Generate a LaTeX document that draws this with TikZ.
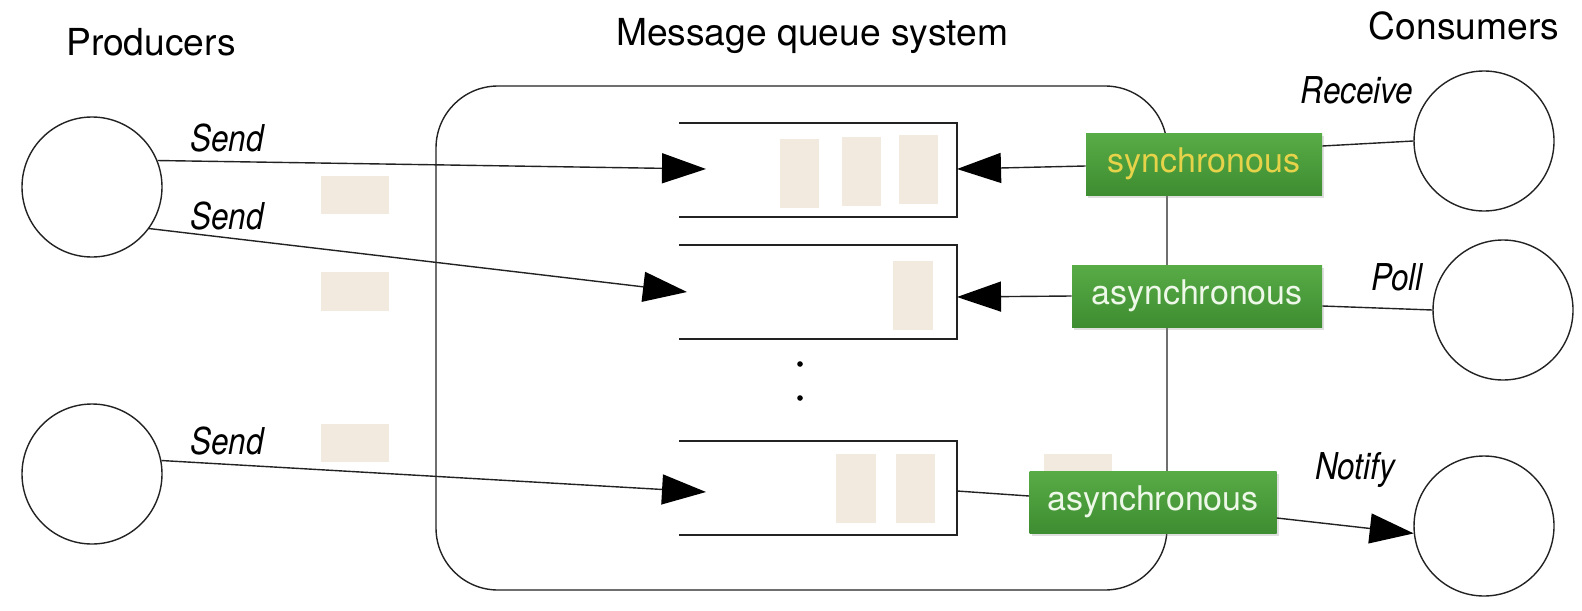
\documentclass[tikz,border=0pt]{standalone}
\usepackage{fontspec}
\setmainfont{TeX Gyre Heros}
\newfontfamily\lblfamily[FakeStretch=0.85]{TeX Gyre Heros}
\usetikzlibrary{arrows.meta,shadows}
\definecolor{msg}{HTML}{F3EADF}
\definecolor{gtop}{HTML}{58AC46}
\definecolor{gbot}{HTML}{3E8D31}
\definecolor{syncyel}{HTML}{E6D34A}
\definecolor{asyncwh}{HTML}{EEF8E8}
\definecolor{ln}{HTML}{222222}
\begin{document}
\begin{tikzpicture}[x=0.5pt,y=-0.5pt,
  title/.style={font=\fontsize{18.6}{20}\selectfont, anchor=base, inner sep=0},
  lbl/.style={font=\lblfamily\itshape\fontsize{18.5}{20}\selectfont, anchor=base, inner sep=0},
  party/.style={circle, draw=ln, line width=0.7pt, minimum size=70pt, inner sep=0},
  msgblk/.style={fill=msg, draw=none},
  gbox/.style={rectangle, top color=gtop, bottom color=gbot, draw=none, inner sep=0,
    font=\fontsize{17}{19}\selectfont,
    drop shadow={opacity=0.25, shadow xshift=1pt, shadow yshift=-1.5pt}},
  conn/.style={draw=ln, line width=0.7pt},
  arr/.style={conn, -{Triangle[length=22pt,width=15pt,fill=black,color=black]}}]
\useasboundingbox (0,0) rectangle (1582,610);

% titles
\node[title] (tprod) at (151,55.5) {Producers};
\node[title] (tmqs) at (812,45.5) {Message queue system};
\node[title] (tcons) at (1464,40) {Consumers};

% message queue system
\draw[conn, rounded corners=31pt] (436,86) rectangle (1167,590);

% queues
\draw[conn] (679,123) -- (957,123) -- (957,217) -- (679,217);
\draw[conn] (679,245) -- (957,245) -- (957,339) -- (679,339);
\draw[conn] (679,441) -- (957,441) -- (957,535) -- (679,535);
\fill[black] (800,364) circle (1.4pt);
\fill[black] (800,398) circle (1.4pt);

% messages
\fill[msgblk] (780,139) rectangle (819,208);
\fill[msgblk] (842,137) rectangle (881,206);
\fill[msgblk] (899,135) rectangle (938,204);
\fill[msgblk] (893,261) rectangle (933,330);
\fill[msgblk] (836,454) rectangle (876,523);
\fill[msgblk] (896,454) rectangle (935,523);
\fill[msgblk] (321,176) rectangle (389,214);
\fill[msgblk] (321,272) rectangle (389,311);
\fill[msgblk] (321,424) rectangle (389,462);
\fill[msgblk] (1044,454) rectangle (1112,490);

% coordinates of queue ends
\coordinate (q1in) at (706,169);
\coordinate (q2in) at (687,292);
\coordinate (q3in) at (706,492);
\coordinate (q1out) at (957,169);
\coordinate (q2out) at (957,297);
\coordinate (q3out) at (957,491);

% producers and consumers
\node[party] (p1) at (92,187) {};
\node[party] (p2) at (92,474) {};
\node[party] (c1) at (1484,141) {};
\node[party] (c2) at (1503,310) {};
\node[party] (c3) at (1484,526) {};

% green boxes
\node[gbox, minimum width=118pt, minimum height=31pt, text=syncyel] (sync) at (1204,164) {synchronous};
\node[gbox, minimum width=125pt, minimum height=31pt, text=asyncwh] (async1) at (1197,296) {asynchronous};
\node[gbox, minimum width=123.5pt, minimum height=31pt, text=asyncwh] (async2) at (1153,502) {asynchronous};

% connectors
\draw[arr] (p1.22) -- (q1in);
\draw[arr] (p1.-36) -- (q2in);
\draw[arr] (p2.11) -- (q3in);
\draw[arr] ([yshift=-1pt]sync.west) -- (q1out);
\draw[arr] (async1.west) -- (q2out);
\draw[conn] (q3out) -- ([yshift=3pt]async2.west);
\draw[conn] ([yshift=9pt]sync.east) -- (c1.west);
\draw[conn] ([yshift=-5pt]async1.east) -- (c2.west);
\draw[arr] ([yshift=-8pt]async2.east) -- (c3.186);

% labels
\node[lbl] (ls1) at (227,151) {Send};
\node[lbl] (ls2) at (227,229) {Send};
\node[lbl] (ls3) at (227,454) {Send};
\node[lbl] (lrec) at (1357,104) {Receive};
\node[lbl] (lpoll) at (1397,290) {Poll};
\node[lbl] (lnot) at (1355,479) {Notify};
\end{tikzpicture}
\end{document}
